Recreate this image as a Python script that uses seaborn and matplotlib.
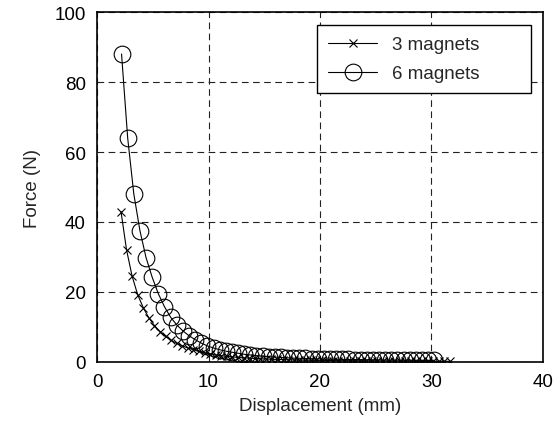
import matplotlib
matplotlib.use("Agg")
import matplotlib.pyplot as plt
import seaborn as sns

# 3 magnets: displacement (mm) and force (N)
disp_3 = [2.15, 2.65, 3.15, 3.65, 4.15, 4.65, 5.15, 5.65, 6.15, 6.65,
          7.15, 7.65, 8.15, 8.65, 9.15, 9.65, 10.15, 10.65, 11.15, 11.65,
          12.15, 12.65, 13.15, 13.65, 14.15, 14.65, 15.15, 15.65, 16.15, 16.65,
          17.15, 17.65, 18.15, 18.65, 19.15, 19.65, 20.15, 20.65, 21.15, 21.65,
          22.15, 22.65, 23.15, 23.65, 24.15, 24.65, 25.15, 25.65, 26.15, 26.65,
          27.15, 27.65, 28.15, 28.65, 29.15, 29.65, 30.15, 30.65, 31.15, 31.65]
force_3 = [43, 32, 24.5, 19.2, 15.5, 12.6, 10.4, 8.7, 7.3, 6.2,
           5.3, 4.6, 4.0, 3.5, 3.0, 2.6, 2.3, 2.0, 1.8, 1.6,
           1.45, 1.3, 1.2, 1.1, 1.0, 0.92, 0.85, 0.78, 0.72, 0.67,
           0.62, 0.58, 0.55, 0.52, 0.49, 0.46, 0.44, 0.42, 0.4, 0.38,
           0.36, 0.35, 0.33, 0.32, 0.31, 0.3, 0.29, 0.28, 0.27, 0.26,
           0.25, 0.24, 0.24, 0.23, 0.22, 0.22, 0.21, 0.2, 0.2, 0.19]

# 6 magnets
disp_6 = [2.2, 2.75, 3.3, 3.85, 4.4, 4.95, 5.5, 6.05, 6.6, 7.15,
          7.7, 8.25, 8.8, 9.35, 9.9, 10.45, 11.0, 11.55, 12.1, 12.65,
          13.2, 13.75, 14.3, 14.85, 15.4, 15.95, 16.5, 17.05, 17.6, 18.15,
          18.7, 19.25, 19.8, 20.35, 20.9, 21.45, 22.0, 22.55, 23.1, 23.65,
          24.2, 24.75, 25.3, 25.85, 26.4, 26.95, 27.5, 28.05, 28.6, 29.15,
          29.7, 30.25]
force_6 = [88, 64, 48, 37.5, 29.8, 24.2, 19.5, 15.8, 12.8, 10.6,
           8.9, 7.5, 6.4, 5.4, 4.6, 4.0, 3.5, 3.1, 2.8, 2.5,
           2.2, 2.0, 1.8, 1.65, 1.5, 1.4, 1.3, 1.2, 1.1, 1.05,
           1.0, 0.95, 0.9, 0.85, 0.8, 0.78, 0.75, 0.72, 0.7, 0.68,
           0.65, 0.63, 0.6, 0.58, 0.56, 0.55, 0.53, 0.52, 0.5, 0.49,
           0.48, 0.47]

x_ticks = [0, 10, 20, 30, 40]
y_ticks = [0, 20, 40, 60, 80, 100]

sns.set_style("white")
plt.rcParams["font.family"] = ["Liberation Sans", "DejaVu Sans"]

fig = plt.figure(figsize=(5.56, 4.31), dpi=100)
ax = fig.add_axes([0.1745, 0.1578, 0.802, 0.812])

sns.lineplot(x=disp_3, y=force_3, ax=ax, color="black", linewidth=0.8,
             marker="x", markersize=5.5, markeredgewidth=0.8, mec="black",
             label="3 magnets", sort=False)
sns.lineplot(x=disp_6, y=force_6, ax=ax, color="black", linewidth=0.8,
             marker="o", markersize=12, markeredgewidth=0.8, mfc="none",
             mec="black", label="6 magnets", sort=False)

ax.set_xlim(0, 40)
ax.set_ylim(0, 100)
ax.set_xticks(x_ticks)
ax.set_yticks(y_ticks)
ax.grid(True, color="#222222", linestyle=(0, (6, 4)), linewidth=0.8)
for s in ax.spines.values():
    s.set_color("black")
    s.set_linewidth(1.2)
ax.tick_params(direction="in", length=3, width=0.8, colors="black",
               labelsize=13.5, pad=8)

ax.set_xlabel("Displacement (mm)", fontsize=13.5, labelpad=5)
ax.set_ylabel("Force (N)", fontsize=13.5, labelpad=10)

leg = ax.legend(loc="upper left", bbox_to_anchor=(0.4933, 0.7686, 0.4798, 0.1943),
                mode="expand", borderaxespad=0, fancybox=False, framealpha=1,
                edgecolor="black", fontsize=13.5, handlelength=2.6,
                handletextpad=0.8, borderpad=0.6, labelspacing=0.62)
leg.get_frame().set_linewidth(1.0)

fig.savefig("out.png", dpi=100)
